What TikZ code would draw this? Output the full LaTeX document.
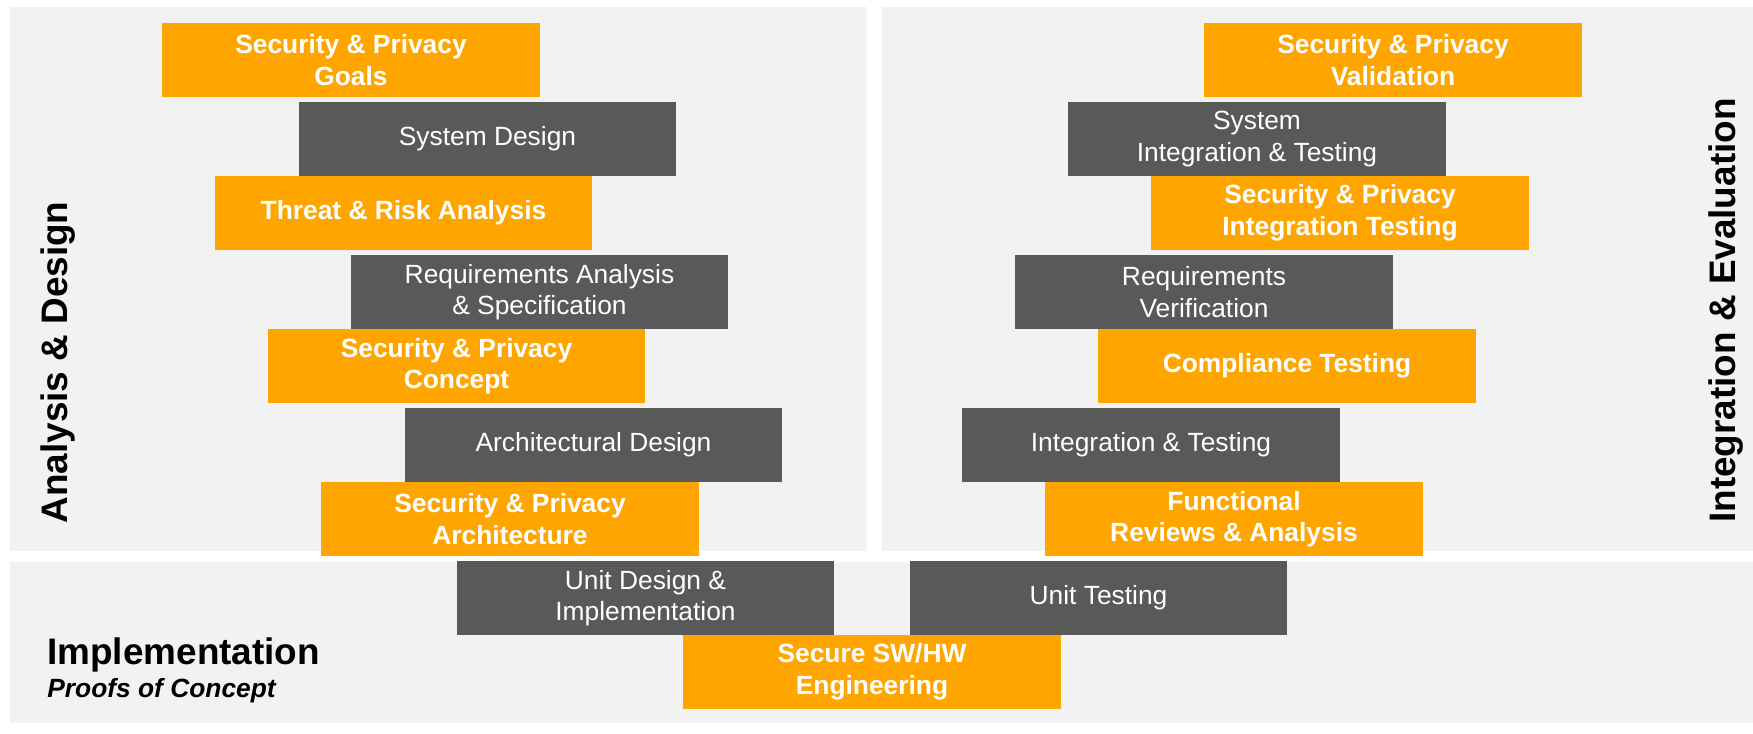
\documentclass[tikz,border=0pt]{standalone}
\usepackage{fontspec}
\setmainfont{Liberation Sans}
\usepackage{xcolor}
\usetikzlibrary{positioning}
\definecolor{secorange}{RGB}{255,165,0}
\definecolor{devgray}{RGB}{89,89,89}
\definecolor{panelgray}{RGB}{242,242,242}

\begin{document}
\begin{tikzpicture}[
    x=0.02cm, y=-0.02cm,
    secbox/.style={rectangle, fill=secorange, minimum width=7.56cm, minimum height=1.48cm, inner sep=0pt, outer sep=0pt, align=center, text=white, font=\fontsize{15}{18}\selectfont\bfseries},
    devbox/.style={rectangle, fill=devgray, minimum width=7.56cm, minimum height=1.48cm, inner sep=0pt, outer sep=0pt, align=center, text=white, font=\fontsize{15}{18}\selectfont},
    sidelabel/.style={rotate=90, anchor=base, inner sep=0pt, font=\fontsize{21}{25}\selectfont\bfseries},
    phaselabel/.style={anchor=base west, inner sep=0pt, font=\fontsize{21}{25}\selectfont\bfseries},
    sublabel/.style={anchor=base west, inner sep=0pt, font=\fontsize{15}{18}\selectfont\bfseries\itshape}
]

\useasboundingbox (0,0) rectangle (1753,733);
\fill[white] (0,0) rectangle (1753,733);

% Background panels
\fill[panelgray] (10,7) rectangle (867,551);
\fill[panelgray] (882,7) rectangle (1753,551);
\fill[panelgray] (10,562) rectangle (1753,723);

% Phase labels
\node[sidelabel] (analysis) at (67,362.5) {Analysis \& Design};
\node[sidelabel] (integration) at (1735,310.5) {Integration \& Evaluation};
\node[phaselabel] (impl) at (47,664) {Implementation};
\node[sublabel] (poc) at (47,697) {Proofs of Concept};

% Left branch (Analysis & Design)
\node[secbox] (goals) at (351,60) {Security \& Privacy\\Goals};
\node[devbox] (sysdesign) at (487.5,139) {System Design};
\node[secbox] (threat) at (403.5,213) {Threat \& Risk Analysis};
\node[devbox] (reqanalysis) at (539.5,292) {Requirements Analysis\\\& Specification};
\node[secbox] (concept) at (456.5,366) {Security \& Privacy\\Concept};
\node[devbox] (archdesign) at (593.5,445) {Architectural Design};
\node[secbox] (architecture) at (510,519) {Security \& Privacy\\Architecture};

% Bottom (Implementation)
\node[devbox] (unitdesign) at (645.5,598) {Unit Design \&\\Implementation};
\node[secbox] (engineering) at (872,672) {Secure SW/HW\\Engineering};
\node[devbox] (unittesting) at (1098.5,598) {Unit Testing};

% Right branch (Integration & Evaluation)
\node[secbox] (functional) at (1234,519) {Functional\\Reviews \& Analysis};
\node[devbox] (inttesting) at (1151,445) {Integration \& Testing};
\node[secbox] (compliance) at (1287,366) {Compliance Testing};
\node[devbox] (reqverif) at (1204,292) {Requirements\\Verification};
\node[secbox] (spinttesting) at (1340,213) {Security \& Privacy\\Integration Testing};
\node[devbox] (sysint) at (1257,139) {System\\Integration \& Testing};
\node[secbox] (validation) at (1393,60) {Security \& Privacy\\Validation};

\end{tikzpicture}
\end{document}
